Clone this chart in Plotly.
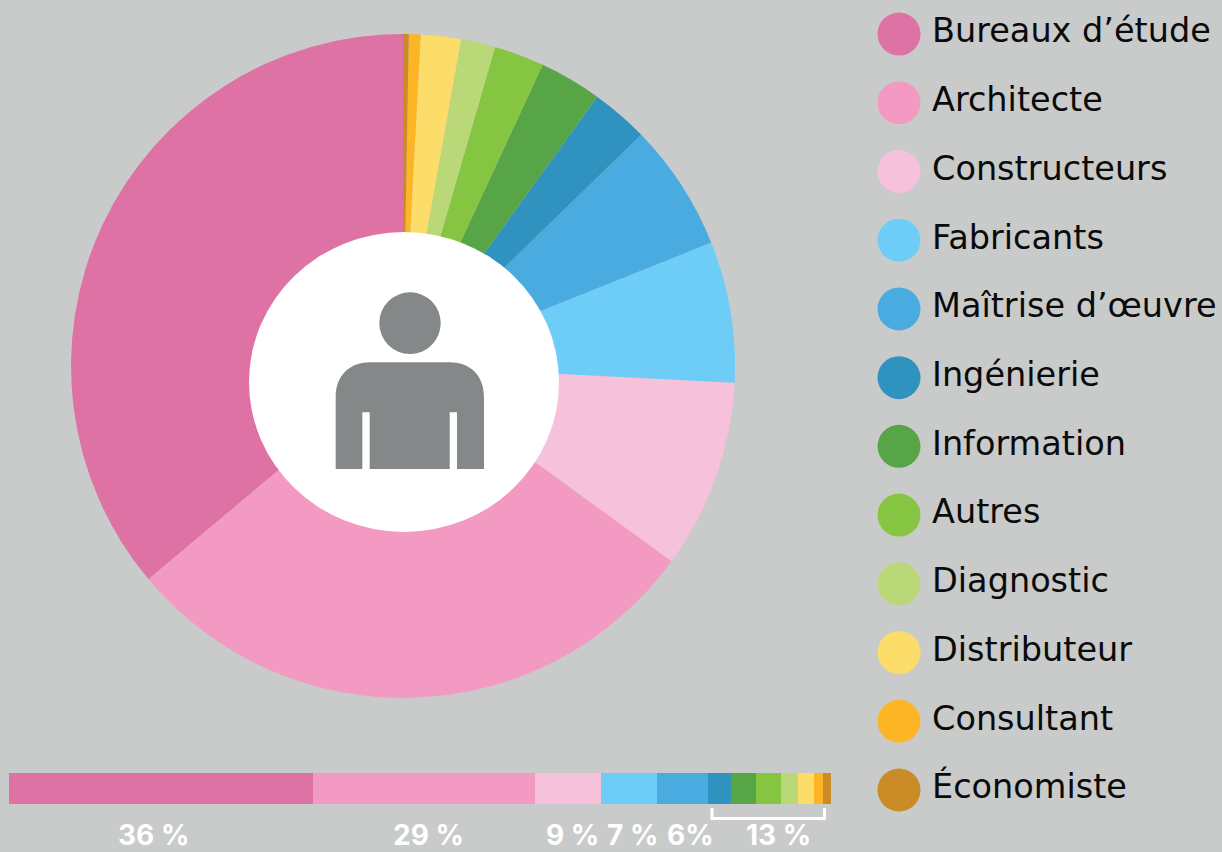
import plotly.graph_objects as go

W, H = 1222, 852

CATEGORIES = ["Bureaux d’étude", "Architecte", "Constructeurs", "Fabricants", "Maîtrise d’œuvre",
              "Ingénierie", "Information", "Autres", "Diagnostic", "Distributeur", "Consultant", "Économiste"]
COLORS = ["#DF72A5", "#F39AC3", "#F5C1DB", "#6ECDF7", "#4AABE0", "#2F92BF",
          "#57A546", "#86C541", "#BAD878", "#FCDD69", "#FDB526", "#C98C26"]
PIE_VALUES = [36.1, 28.9, 9.2, 6.86, 6.2, 2.8, 3.03, 2.44, 1.67, 1.95, 0.57, 0.28]
BAR_VALUES = [36.9, 27.0, 8.0, 6.9, 6.1, 2.9, 3.0, 3.0, 2.1, 1.9, 1.1, 1.0]
BAR_LABELS = ["36 %", "29 %", "9 %", "7 %", "6%", "13 %"]
BAR_LABEL_X = [153, 428, 572, 632, 690, 778]

BG = "#C9CBCA"
ICON = "#848888"
LEGEND_FONT = "DejaVu Sans"
LABEL_FONT = "Inter"


def px(x):
    return x / W


def py(y):
    return 1 - y / H


fig = go.Figure()

# Donut base: the first slice ends at twelve o'clock, running counter-clockwise
fig.add_trace(go.Pie(
    labels=CATEGORIES, values=PIE_VALUES, sort=False, direction="counterclockwise",
    rotation=-360 * PIE_VALUES[0] / sum(PIE_VALUES),
    marker=dict(colors=COLORS, line=dict(width=0)), textinfo="none", showlegend=False, hoverinfo="label+percent",
    domain=dict(x=[px(71), px(735)], y=[py(698), py(34)]),
))

# Stacked bar
for name, value, color in zip(CATEGORIES, BAR_VALUES, COLORS):
    fig.add_trace(go.Bar(x=[value], y=["share"], orientation="h", name=name, marker=dict(color=color, line=dict(width=0)),
                         xaxis="x", yaxis="y", showlegend=False, width=1))

# Legend built on its own axes
fig.add_trace(go.Scatter(x=[0] * len(CATEGORIES), y=CATEGORIES, mode="markers",
                         marker=dict(size=43, color=COLORS, line=dict(width=0)),
                         xaxis="x2", yaxis="y2", showlegend=False, hoverinfo="y"))
fig.add_trace(go.Scatter(x=[33] * len(CATEGORIES), y=CATEGORIES, mode="text", text=CATEGORIES,
                         textposition="middle right", textfont=dict(family=LEGEND_FONT, size=33.5, color="#0A0A0A"),
                         xaxis="x2", yaxis="y2", showlegend=False, hoverinfo="skip"))

shapes = []
# White centre
shapes.append(dict(type="circle", xref="paper", yref="paper", x0=px(249), x1=px(559), y0=py(532), y1=py(232),
                   fillcolor="white", line=dict(width=0), layer="above"))
# Person icon
shapes.append(dict(type="circle", xref="paper", yref="paper", x0=px(379.3), x1=px(440.7), y0=py(354), y1=py(292.3),
                   fillcolor=ICON, line=dict(width=0), layer="above"))


def pt(x, y):
    return f"{px(x):.5f},{py(y):.5f}"


body = (f"M {pt(335.7, 469)} L {pt(335.7, 397)} C {pt(335.7, 375)} {pt(350, 362.3)} {pt(371, 362.3)} "
        f"L {pt(449, 362.3)} C {pt(470, 362.3)} {pt(484, 375)} {pt(484, 397)} L {pt(484, 469)} "
        f"L {pt(457, 469)} L {pt(457, 412.3)} L {pt(449.7, 412.3)} L {pt(449.7, 469)} "
        f"L {pt(369.7, 469)} L {pt(369.7, 412.3)} L {pt(362.3, 412.3)} L {pt(362.3, 469)} Z")
shapes.append(dict(type="path", xref="paper", yref="paper", path=body, fillcolor=ICON, line=dict(width=0), layer="above"))

# Bracket beneath the small segments
bracket = f"M {pt(712, 808)} L {pt(712, 818.5)} L {pt(824.5, 818.5)} L {pt(824.5, 808)}"
shapes.append(dict(type="path", xref="paper", yref="paper", path=bracket, line=dict(color="white", width=3)))

annotations = [dict(text=t, x=px(x), y=py(834.5), xref="paper", yref="paper", showarrow=False, xanchor="center",
                    yanchor="middle", font=dict(family=LABEL_FONT, size=28, color="white", weight="bold"))
               for t, x in zip(BAR_LABELS, BAR_LABEL_X)]

axis_off = dict(visible=False, showgrid=False, zeroline=False, fixedrange=True)
fig.update_layout(
    width=W, height=H, margin=dict(l=0, r=0, t=0, b=0), paper_bgcolor=BG, plot_bgcolor="rgba(0,0,0,0)",
    barmode="stack", bargap=0, shapes=shapes, annotations=annotations, hovermode="closest",
    xaxis=dict(axis_off, domain=[px(9), px(831)], range=[0, sum(BAR_VALUES)]),
    yaxis=dict(axis_off, domain=[py(804), py(773)], type="category", range=[-0.5, 0.5]),
    xaxis2=dict(axis_off, domain=[px(877), 1], range=[-22, 323], anchor="y2"),
    yaxis2=dict(axis_off, domain=[py(824.35), 1], type="category", categoryorder="array",
                categoryarray=CATEGORIES, range=[11.5, -0.495], anchor="x2"),
)

fig.write_html("out.html", config=dict(displayModeBar=False),
               post_script="document.body.style.margin='0';")
